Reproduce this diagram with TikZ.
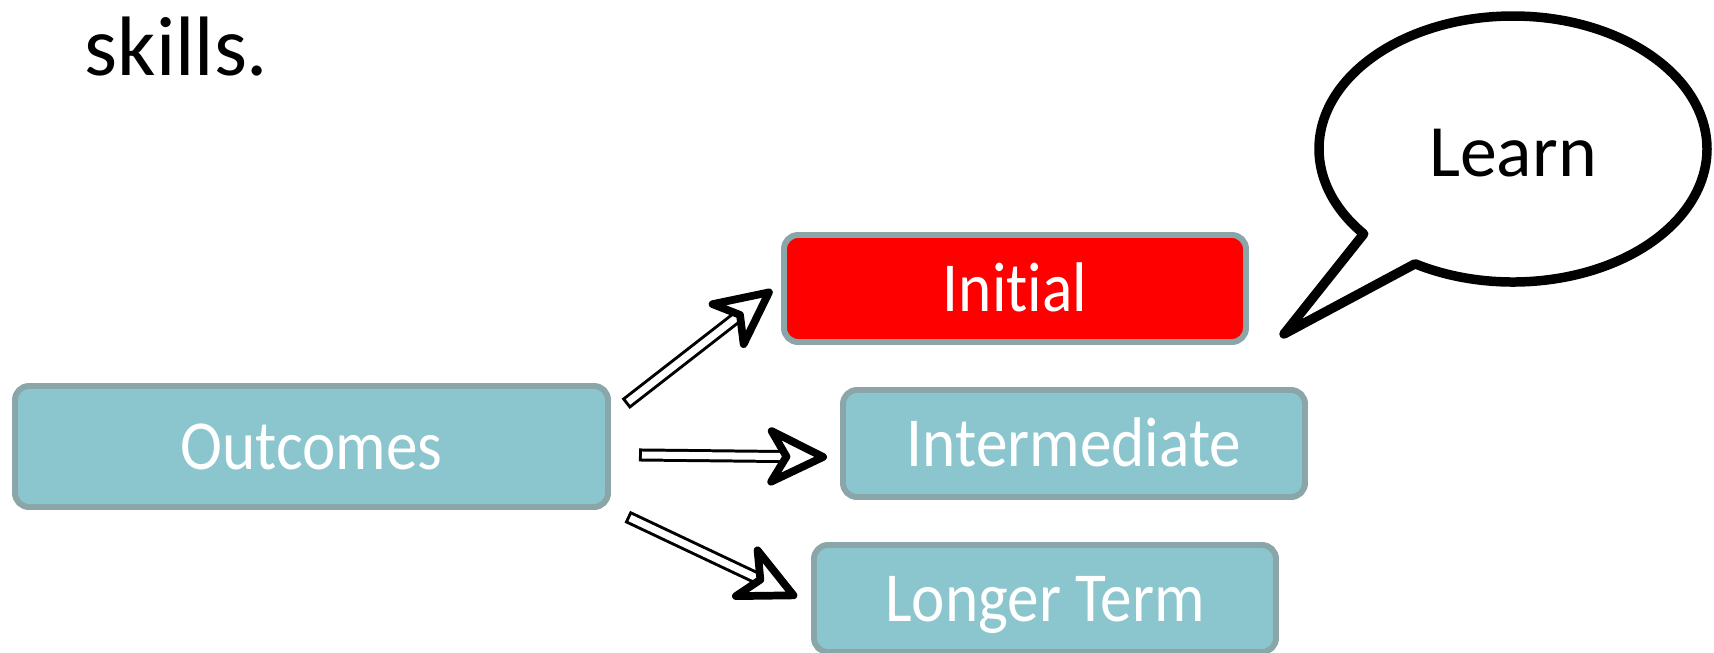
\documentclass[tikz,border=0pt]{standalone}
\usepackage{fontspec}
\setmainfont{Carlito}[Ligatures=NoCommon]
\newfontfamily\stagefont{Carlito}[FakeStretch=0.9, Ligatures=NoCommon]
\usepackage{tikz}
\usetikzlibrary{positioning, shapes.callouts, arrows.meta}
\definecolor{boxfill}{HTML}{8BC6CE}
\definecolor{boxline}{HTML}{8BA6A9}

\begin{document}
\begin{tikzpicture}
    \tikzstyle{stage} = [rectangle, rounded corners=0.14cm, minimum width=4.62cm, minimum height=1.07cm, inner sep=0pt, outer sep=0pt, align=center, draw=boxline, line width=1.7pt, fill=boxfill, text=white, font=\stagefont\fontsize{20}{24}\selectfont, text height=12.9pt, text depth=0pt]
    \tikzstyle{hollow} = [draw=white, line width=2pt, -{Stealth[length=0.7cm, width=0.68cm, inset=0.2cm, color=black, fill=white, line width=2.2pt, round]}, preaction={draw=black, line width=3.7pt, arrows=-, shorten <=-0.85pt, shorten >=0.4cm}]
    \tikzstyle{bubble} = [ellipse callout, draw=black, line width=2.7pt, line join=round, fill=white, minimum width=3.88cm, minimum height=2.66cm, inner sep=0pt, callout pointer arc=20, font=\fontsize{21}{25}\selectfont, text height=15.8pt, text depth=0pt]

    \useasboundingbox (0,0) rectangle (17.14,-6.52);

    \node (skills) [anchor=base west, inner sep=0pt, font=\fontsize{24}{29}\selectfont] at (0.84,-0.75) {skills.};

    \node (out) [stage, minimum width=5.93cm, minimum height=1.21cm] at (3.115,-4.465) {Outcomes};
    \node (ini) [stage, fill=red] at (10.15,-2.885) {Initial};
    \node (mid) [stage, right=2.35cm of out, yshift=0.03cm] {Intermediate};
    \node (long) [stage] at (10.45,-5.985) {Longer Term};

    % speech bubble
    \coordinate (tail) at (12.84,-3.34);
    \node (learn) [bubble, callout absolute pointer={(tail)}] at (15.13,-1.49) {Learn};

    \draw [hollow] ([shift={(0.20,0.445)}]out.east) -- ([shift={(-0.12,-0.015)}]ini.west);
    \draw [hollow] ([shift={(0.34,-0.085)}]out.east) -- ([shift={(-0.16,-0.135)}]mid.west);
    \draw [hollow] ([shift={(0.22,-0.715)}]out.east) -- ([shift={(-0.17,0.015)}]long.west);
\end{tikzpicture}
\end{document}
